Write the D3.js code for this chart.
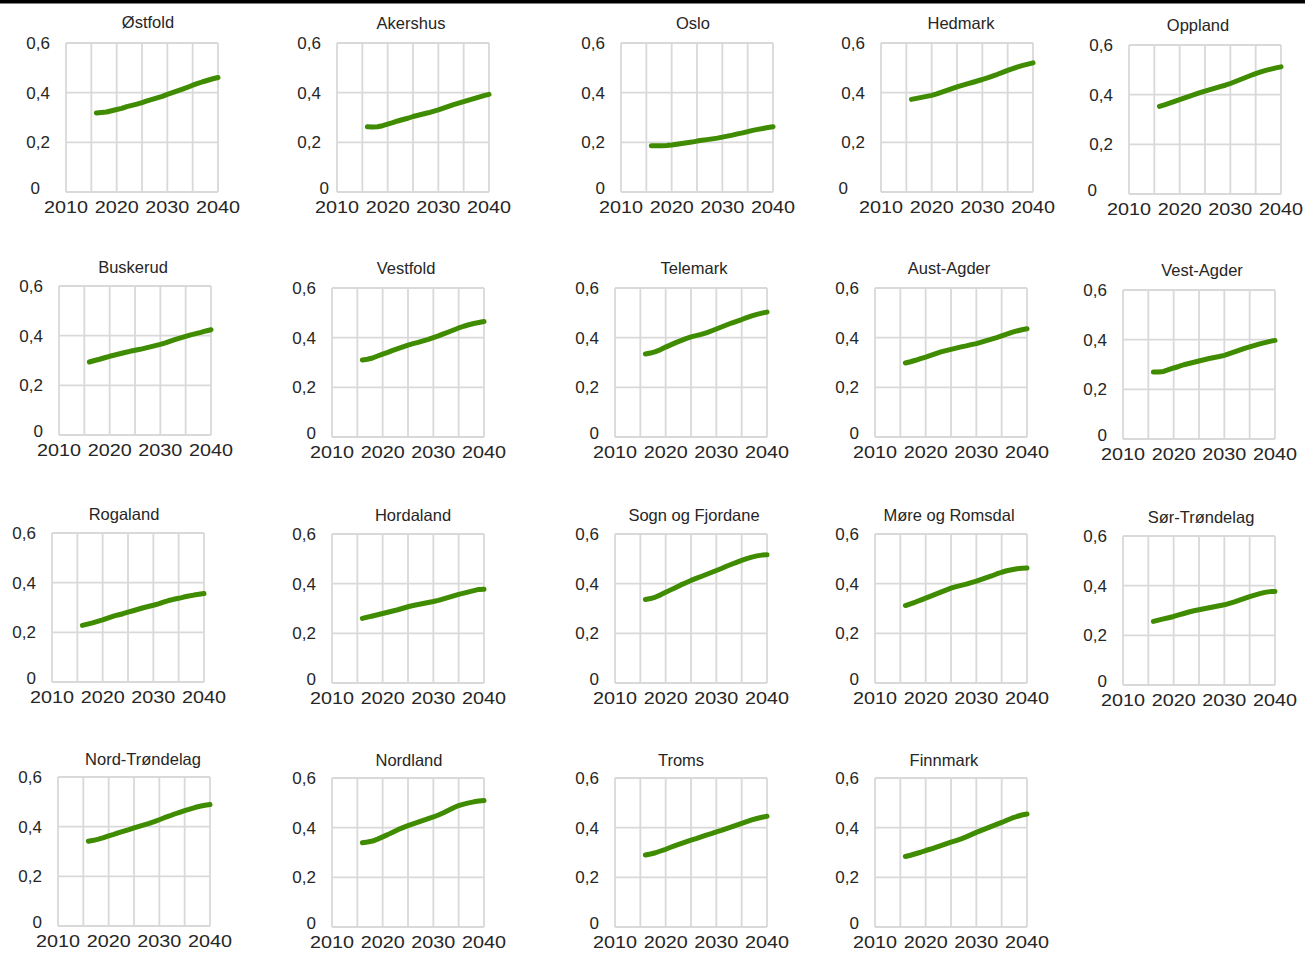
<!DOCTYPE html>
<html>
<head>
<meta charset="utf-8">
<script src="https://cdn.jsdelivr.net/npm/d3@7"></script>
<style>
  html, body { margin: 0; padding: 0; background: #fff; }
  svg { display: block; }
  text { font-family: "Liberation Sans", Arial, sans-serif; fill: #262626; }
</style>
</head>
<body>
<svg id="chart" width="1305" height="953"></svg>
<script>
// ---------------- DATA ----------------
const years = d3.range(2016, 2041); // 2016..2040
const yTickValues = [0, 0.2, 0.4, 0.6];
const yTickLabels = ["0", "0,2", "0,4", "0,6"];
const xTickLabels = [2010, 2020, 2030, 2040];
const xGridValues = [2010, 2015, 2020, 2025, 2030, 2035, 2040];

const counties = ["Østfold", "Akershus", "Oslo", "Hedmark", "Oppland",
  "Buskerud", "Vestfold", "Telemark", "Aust-Agder", "Vest-Agder",
  "Rogaland", "Hordaland", "Sogn og Fjordane", "Møre og Romsdal", "Sør-Trøndelag",
  "Nord-Trøndelag", "Nordland", "Troms", "Finnmark"];

const ostfold    = [.318,.320,.322,.327,.332,.337,.344,.349,.354,.360,.367,.373,.379,.385,.393,.400,.407,.414,.422,.430,.437,.444,.450,.456,.461];
const akershus   = [.263,.262,.263,.267,.273,.279,.286,.292,.297,.304,.309,.314,.319,.325,.331,.338,.345,.352,.358,.364,.370,.376,.382,.388,.393];
const oslo       = [.186,.186,.186,.187,.189,.192,.195,.198,.201,.205,.208,.211,.214,.217,.221,.225,.229,.234,.238,.243,.248,.252,.256,.260,.263];
const hedmark    = [.373,.377,.381,.385,.389,.395,.402,.409,.416,.423,.429,.435,.441,.447,.453,.460,.467,.474,.482,.490,.497,.504,.510,.515,.520];
const oppland    = [.353,.359,.366,.373,.380,.387,.394,.401,.408,.414,.420,.426,.432,.438,.445,.453,.461,.469,.477,.485,.492,.498,.503,.508,.512];
const buskerud   = [.294,.300,.305,.311,.317,.322,.327,.332,.337,.341,.345,.350,.355,.360,.365,.371,.378,.385,.391,.397,.403,.408,.413,.419,.424];
const vestfold   = [.310,.313,.318,.326,.334,.341,.349,.356,.363,.370,.376,.381,.387,.393,.400,.407,.415,.423,.431,.439,.446,.452,.457,.461,.465];
const telemark   = [.334,.338,.344,.352,.362,.371,.380,.388,.396,.403,.408,.413,.419,.427,.435,.443,.451,.459,.466,.473,.481,.488,.494,.499,.503];
const austAgder  = [.298,.303,.309,.316,.322,.329,.336,.343,.348,.353,.358,.363,.367,.372,.376,.382,.388,.394,.400,.407,.414,.421,.427,.432,.436];
const vestAgder  = [.270,.270,.272,.279,.286,.292,.299,.304,.309,.314,.319,.324,.328,.332,.337,.344,.351,.358,.365,.371,.377,.383,.388,.393,.397];
const rogaland   = [.228,.233,.238,.244,.250,.257,.264,.270,.275,.281,.287,.293,.299,.304,.309,.315,.322,.328,.333,.337,.342,.346,.350,.353,.356];
const hordaland  = [.260,.265,.270,.275,.280,.285,.290,.295,.301,.307,.312,.316,.320,.324,.328,.333,.339,.345,.351,.357,.362,.367,.372,.377,.378];
const sognFjord  = [.336,.340,.346,.355,.365,.375,.385,.395,.404,.413,.421,.429,.437,.445,.453,.461,.470,.478,.486,.494,.501,.507,.512,.515,.516];
const moreRomsd  = [.312,.319,.326,.334,.342,.350,.358,.366,.374,.382,.388,.393,.398,.404,.410,.417,.424,.431,.439,.446,.452,.456,.460,.462,.463];
const sorTrond   = [.256,.261,.266,.271,.276,.282,.288,.294,.299,.303,.307,.311,.315,.319,.323,.329,.335,.342,.349,.356,.362,.368,.373,.376,.377];
const nordTrond  = [.341,.345,.350,.356,.363,.369,.376,.382,.388,.395,.401,.407,.413,.420,.428,.436,.443,.451,.458,.465,.471,.477,.482,.486,.489];
const nordland   = [.339,.342,.346,.354,.363,.372,.382,.392,.400,.408,.415,.422,.429,.436,.443,.451,.460,.470,.480,.489,.495,.500,.504,.507,.509];
const troms      = [.290,.294,.299,.306,.313,.321,.329,.336,.343,.350,.356,.363,.370,.376,.383,.389,.396,.403,.410,.417,.424,.431,.437,.442,.446];
const finnmark   = [.284,.289,.295,.301,.308,.314,.321,.328,.335,.342,.348,.355,.363,.372,.381,.389,.397,.405,.413,.421,.430,.438,.445,.451,.455];

const seriesValues = [ostfold, akershus, oslo, hedmark, oppland,
  buskerud, vestfold, telemark, austAgder, vestAgder,
  rogaland, hordaland, sognFjord, moreRomsd, sorTrond,
  nordTrond, nordland, troms, finnmark];

// ---------------- LAYOUT (positions only) ----------------
// [plotLeft, plotTop, titleX, titleY, zeroLabelDx]
const panelLayout = [
  [66, 43, 148, 22, -26], [337, 43, 411, 23, -8], [621, 43, 693, 23, -16], [881, 43, 961, 23, -33], [1129, 45, 1198, 25, -32],
  [59, 286, 133, 267, -16], [332, 288, 406, 268, -16], [615, 288, 694, 268, -16], [875, 288, 949, 268, -16], [1123, 290, 1202, 270, -16],
  [52, 533, 124, 514, -16], [332, 534, 413, 515, -16], [615, 534, 694, 515, -16], [875, 534, 949, 515, -16], [1123, 536, 1201, 517, -16],
  [58, 777, 143, 759, -16], [332, 778, 409, 760, -16], [615, 778, 681, 760, -16], [875, 778, 944, 760, -16]
];
const plotW = 152, plotH = 149;

// ---------------- DRAW ----------------
const svg = d3.select("#chart");
svg.append("rect").attr("x", 0).attr("y", 0).attr("width", 1305).attr("height", 3.5).attr("fill", "#000");

const gridColor = "#d9d9d9";
const lineColor = "#3f8c00";

counties.forEach((name, i) => {
  const [left, top, tx, ty, zdx] = panelLayout[i];
  const x = d3.scaleLinear().domain([2010, 2040]).range([left, left + plotW]);
  const y = d3.scaleLinear().domain([0, 0.6]).range([top + plotH, top]);
  const g = svg.append("g");

  // vertical gridlines
  g.append("g").selectAll("line").data(xGridValues).join("line")
    .attr("x1", d => x(d)).attr("x2", d => x(d))
    .attr("y1", y(0.6)).attr("y2", y(0))
    .attr("stroke", gridColor).attr("stroke-width", 1.8);
  // horizontal gridlines
  g.append("g").selectAll("line").data(yTickValues).join("line")
    .attr("x1", x(2010)).attr("x2", x(2040))
    .attr("y1", d => y(d)).attr("y2", d => y(d))
    .attr("stroke", gridColor).attr("stroke-width", 1.8);

  // y tick labels
  g.append("g").selectAll("text").data(yTickValues).join("text")
    .attr("x", (d) => d === 0 ? left + zdx : left - 16)
    .attr("y", d => d === 0 ? y(d) - 4 : y(d))
    .attr("dy", "0.36em")
    .attr("text-anchor", "end")
    .attr("font-size", 17)
    .text((d, k) => yTickLabels[k]);

  // x tick labels
  g.append("g").selectAll("text").data(xTickLabels).join("text")
    .attr("x", d => x(d))
    .attr("y", y(0) + 15)
    .attr("dy", "0.36em")
    .attr("text-anchor", "middle")
    .attr("font-size", 17)
    .attr("textLength", 44)
    .attr("lengthAdjust", "spacingAndGlyphs")
    .text(d => d);

  // title
  g.append("text")
    .attr("x", tx).attr("y", ty)
    .attr("dy", "0.36em")
    .attr("text-anchor", "middle")
    .attr("font-size", 16.5)
    .text(name);

  // data line
  const line = d3.line().x((d, k) => x(years[k])).y(d => y(d));
  g.append("path")
    .datum(seriesValues[i])
    .attr("d", line)
    .attr("fill", "none")
    .attr("stroke", lineColor)
    .attr("stroke-width", 5)
    .attr("stroke-linecap", "round")
    .attr("stroke-linejoin", "round");
});
</script>
</body>
</html>
